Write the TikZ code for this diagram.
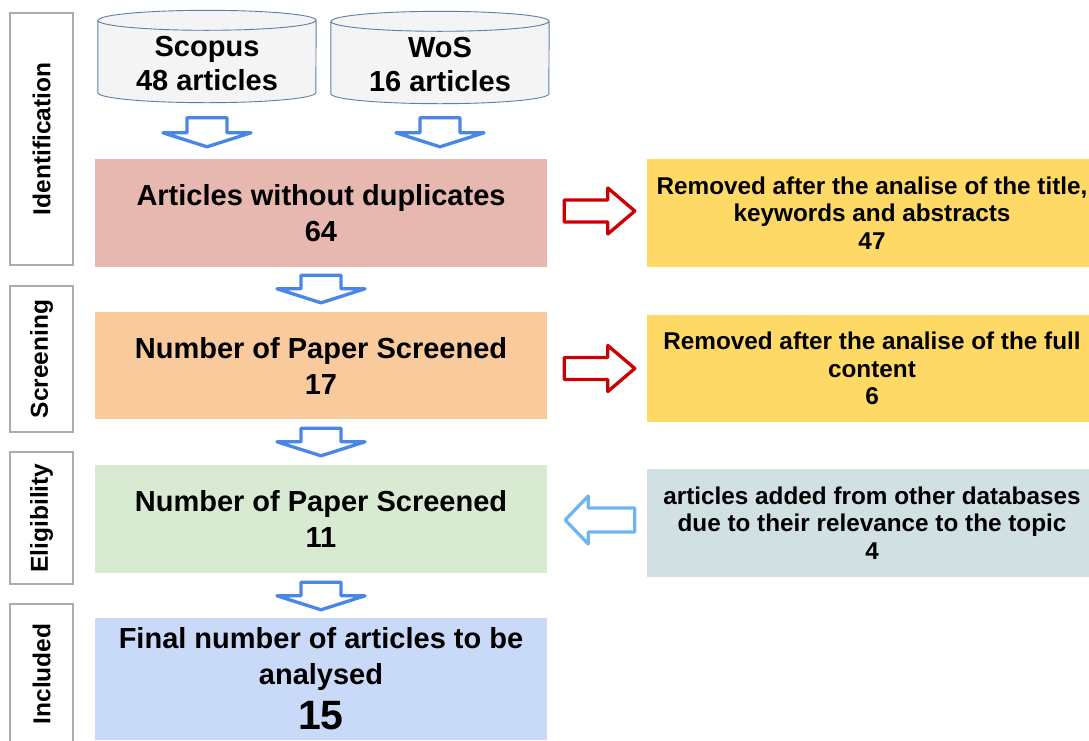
\documentclass[tikz,border=0pt]{standalone}
\usepackage{fontspec}
\setmainfont{Liberation Sans}
\usetikzlibrary{calc,backgrounds}

\definecolor{boxred}{HTML}{E6B8AF}
\definecolor{boxorange}{HTML}{F9CB9C}
\definecolor{boxgreen}{HTML}{D9EAD3}
\definecolor{boxblue}{HTML}{C9DAF8}
\definecolor{boxyellow}{HTML}{FFD966}
\definecolor{boxcyan}{HTML}{D0E0E3}
\definecolor{arrblue}{HTML}{4A86E8}
\definecolor{arrred}{HTML}{CC0000}
\definecolor{arrsky}{HTML}{6FB5F0}
\definecolor{cylline}{HTML}{5E7FA3}

% hollow block arrows between two named nodes
\newcommand{\downarr}[2]{%
  \draw [line width=3.3pt,draw=arrblue,fill=white,line join=round] let \p1=#1, \p2=#2 in
    (\x1-20pt,\y1) -- (\x1-20pt,\y2+14pt) -- (\x1-44pt,\y2+14pt) -- (\x1,\y2)
    -- (\x1+44pt,\y2+14pt) -- (\x1+20pt,\y2+14pt) -- (\x1+20pt,\y1) -- cycle;}
\newcommand{\rightarr}[2]{%
  \draw [line width=3.3pt,draw=arrred,fill=white,line join=round] let \p1=#1, \p2=#2 in
    (\x1,\y2+11pt) -- (\x2-27pt,\y2+11pt) -- (\x2-27pt,\y2+23pt) -- (\x2,\y2)
    -- (\x2-27pt,\y2-23pt) -- (\x2-27pt,\y2-11pt) -- (\x1,\y2-11pt) -- cycle;}
\newcommand{\leftarr}[2]{%
  \draw [line width=3.3pt,draw=arrsky,fill=white,line join=round] let \p1=#1, \p2=#2 in
    (\x1,\y1+12pt) -- (\x2+23pt,\y1+12pt) -- (\x2+23pt,\y1+24pt) -- (\x2,\y1)
    -- (\x2+23pt,\y1-24pt) -- (\x2+23pt,\y1-12pt) -- (\x1,\y1-12pt) -- cycle;}
% database drum round a named node
\newcommand{\dbshape}[1]{%
  \draw [draw=cylline,line width=0.9pt,fill=gray!9] let \p1=(#1.north west), \p2=(#1.south east) in
    (\x1,\y1+10pt) -- (\x1,\y2+4pt) arc[start angle=180,end angle=360,x radius=109pt,y radius=10pt]
    -- (\x2,\y1+10pt) arc[start angle=0,end angle=180,x radius=109pt,y radius=10pt] -- cycle
    (\x1,\y1+10pt) arc[start angle=180,end angle=360,x radius=109pt,y radius=10pt];}

\begin{document}
\begin{tikzpicture}[x=1pt,y=-1pt,
  sidebox/.style={draw=gray!65,line width=1.8pt,fill=white,minimum width=63pt,inner sep=0pt,
    font=\fontsize{24.5}{28}\selectfont\bfseries},
  mainbox/.style={fill=#1,minimum width=452pt,minimum height=108pt,inner sep=0pt,align=center,
    font=\fontsize{29}{36}\selectfont\bfseries},
  notebox/.style={fill=#1,minimum width=450pt,minimum height=108pt,inner sep=0pt,align=center,
    font=\fontsize{24.3}{27.5}\selectfont\bfseries},
  dbase/.style={minimum width=218pt,minimum height=66pt,inner sep=0pt,align=center,
    font=\fontsize{29}{34}\selectfont\bfseries}]
\useasboundingbox (0,0) rectangle (1089,740);

\node [sidebox,minimum height=252pt] at (41.5,139) (ident) {\rotatebox{90}{Identification}};
\node [sidebox,minimum height=146pt] at (41.5,359) (screen) {\rotatebox{90}{Screening}};
\node [sidebox,minimum height=132pt] at (41.5,518) (elig) {\rotatebox{90}{Eligibility}};
\node [sidebox,minimum height=140pt] at (41.5,674) (incl) {\rotatebox{90}{Included}};

\node [dbase] at (207,63.5) (scopus) {Scopus\\48 articles};
\node [dbase] at (440,64.5) (wos) {WoS\\16 articles};
\begin{scope}[on background layer]
\dbshape{scopus}
\dbshape{wos}
\end{scope}

\node [mainbox=boxred] at (321,213) (nodup) {Articles without duplicates\\64};
\node [mainbox=boxorange,minimum height=107pt] at (321,365.5) (screened) {Number of Paper Screened\\17};
\node [mainbox=boxgreen] at (321,519) (eligible) {Number of Paper Screened\\11};
\node [mainbox=boxblue,minimum height=122pt] at (321,679) (final) {Final number of articles to be\\analysed\\[9pt]{\fontsize{41}{41}\selectfont 15}};

\node [notebox=boxyellow] at (872,213) (rem1) {Removed after the analise of the title,\\keywords and abstracts\\47};
\node [notebox=boxyellow,minimum height=107pt] at (872,368.5) (rem2) {Removed after the analise of the full\\content\\6};
\node [notebox=boxcyan] at (872,523) (added) {articles added from other databases\\due to their relevance to the topic\\4};

\downarr{($(scopus.south)+(0,21)$)}{($(nodup.north)+(0,-12)$)}
\downarr{($(wos.south)+(0,20)$)}{($(nodup.north)+(0,-12)$)}
\downarr{($(nodup.south)+(0,8)$)}{($(screened.north)+(0,-9)$)}
\downarr{($(screened.south)+(0,9)$)}{($(eligible.north)+(0,-9)$)}
\downarr{($(eligible.south)+(0,9)$)}{($(final.north)+(0,-8)$)}

\rightarr{($(nodup.east)+(17,0)$)}{($(rem1.west)+(-12,-2)$)}
\rightarr{($(screened.east)+(17,0)$)}{($(rem2.west)+(-12,0)$)}
\leftarr{($(added.west)+(-12,-3)$)}{($(eligible.east)+(18,0)$)}
\end{tikzpicture}
\end{document}
